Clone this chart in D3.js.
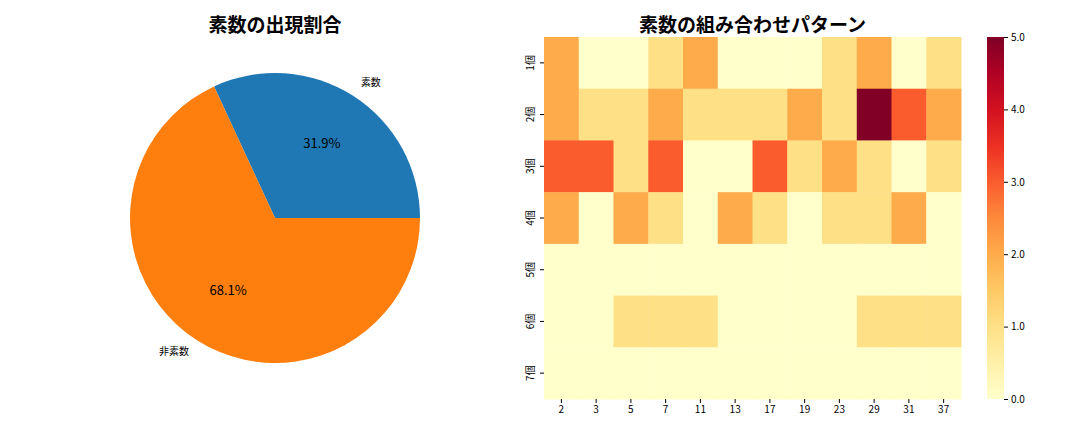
<!DOCTYPE html>
<html><head><meta charset="utf-8">
<script src="https://cdn.jsdelivr.net/npm/d3@7"></script>
<style>body{margin:0;background:#fff}text{font-family:"Noto Sans CJK JP","Noto Sans",sans-serif}</style>
</head><body><div id="chart"></div>
<script>
// pie data
const pieLabels = ["素数", "非素数"]
const pieValues = [31.9, 68.1]
const pieColors = ["#1f77b4", "#ff7f0e"]

// heatmap data
const primes = [2, 3, 5, 7, 11, 13, 17, 19, 23, 29, 31, 37]
const rowLabels = ["1個", "2個", "3個", "4個", "5個", "6個", "7個"]
const counts = [
    [2, 0, 0, 1, 2, 0, 0, 0, 1, 2, 0, 1],
    [2, 1, 1, 2, 1, 1, 1, 2, 1, 5, 3, 2],
    [3, 3, 1, 3, 0, 0, 3, 1, 2, 1, 0, 1],
    [2, 0, 2, 1, 0, 2, 1, 0, 1, 1, 2, 0],
    [0, 0, 0, 0, 0, 0, 0, 0, 0, 0, 0, 0],
    [0, 0, 1, 1, 1, 0, 0, 0, 0, 1, 1, 1],
    [0, 0, 0, 0, 0, 0, 0, 0, 0, 0, 0, 0]
]
const colorTicks = [0, 1, 2, 3, 4, 5]

let svg = d3.select("#chart").append("svg").attr("width", 1080).attr("height", 432)

// --- pie ---
let cx = 275, cy = 218, r = 145
svg.append("text").attr("x", cx).attr("y", 32).attr("text-anchor", "middle")
    .attr("font-size", 19).attr("font-weight", "bold").text("素数の出現割合")
let total = d3.sum(pieValues)
let acc = 0
pieValues.forEach((v, i) => {
    let t0 = acc / total * 2 * Math.PI, t1 = (acc + v) / total * 2 * Math.PI
    acc += v
    let arc = d3.arc().innerRadius(0).outerRadius(r)
        .startAngle(Math.PI / 2 - t1).endAngle(Math.PI / 2 - t0)
    svg.append("path").attr("transform", `translate(${cx},${cy})`)
        .attr("d", arc()).attr("fill", pieColors[i])
    let mid = (t0 + t1) / 2
    svg.append("text").attr("x", cx + 1.1 * r * Math.cos(mid)).attr("y", cy - 1.1 * r * Math.sin(mid))
        .attr("text-anchor", Math.cos(mid) > 0 ? "start" : "end").attr("dominant-baseline", "middle")
        .attr("font-size", 10).text(pieLabels[i])
    svg.append("text").attr("x", cx + 0.6 * r * Math.cos(mid)).attr("y", cy - 0.6 * r * Math.sin(mid))
        .attr("text-anchor", "middle").attr("dominant-baseline", "middle")
        .attr("font-size", 13).text(v.toFixed(1) + "%")
})

// --- heatmap ---
let hx0 = 544, hx1 = 961, hy0 = 37, hy1 = 399
svg.append("text").attr("x", (hx0 + hx1) / 2).attr("y", 32).attr("text-anchor", "middle")
    .attr("font-size", 19).attr("font-weight", "bold").text("素数の組み合わせパターン")
let x = d3.scaleBand().domain(primes).range([hx0, hx1])
let y = d3.scaleBand().domain(rowLabels).range([hy0, hy1])
let color = d3.scaleSequential(d3.interpolateYlOrRd).domain([0, 5])

counts.forEach((row, ri) => row.forEach((v, ci) => {
    svg.append("rect").attr("x", x(primes[ci])).attr("y", y(rowLabels[ri]))
        .attr("width", x.bandwidth() + 0.5).attr("height", y.bandwidth() + 0.5)
        .attr("fill", color(v))
}))

let xAxis = svg.append("g").attr("transform", `translate(0,${hy1})`)
    .call(d3.axisBottom(x).tickSize(4))
xAxis.select(".domain").remove()
xAxis.selectAll("text").attr("font-size", 10).attr("font-family", "'Noto Sans CJK JP'")

let yAxis = svg.append("g").attr("transform", `translate(${hx0},0)`)
    .call(d3.axisLeft(y).tickSize(4))
yAxis.select(".domain").remove()
yAxis.selectAll("text").attr("font-size", 10).attr("font-family", "'Noto Sans CJK JP'")
    .attr("text-anchor", "middle").attr("dy", "0.35em")
    .attr("transform", function() { let tx = d3.select(this).attr("x"); return null })
yAxis.selectAll(".tick text").each(function() {
    d3.select(this).attr("x", null).attr("dy", null)
        .attr("transform", "translate(-13,0) rotate(-90)").attr("dominant-baseline", "middle")
})

// colorbar
let cbx = 987, cbw = 17
let cbScale = d3.scaleLinear().domain([0, 5]).range([hy1, hy0])
let defs = svg.append("defs")
let grad = defs.append("linearGradient").attr("id", "cb").attr("x1", 0).attr("y1", 1).attr("x2", 0).attr("y2", 0)
d3.range(0, 1.01, 0.1).forEach(t => grad.append("stop").attr("offset", t).attr("stop-color", color(t * 5)))
svg.append("rect").attr("x", cbx).attr("y", hy0).attr("width", cbw).attr("height", hy1 - hy0).attr("fill", "url(#cb)")
let cAxis = svg.append("g").attr("transform", `translate(${cbx + cbw},0)`)
    .call(d3.axisRight(cbScale).tickValues(colorTicks).tickSize(4))
cAxis.select(".domain").remove()
cAxis.selectAll("text").attr("font-size", 10)
</script></body></html>
